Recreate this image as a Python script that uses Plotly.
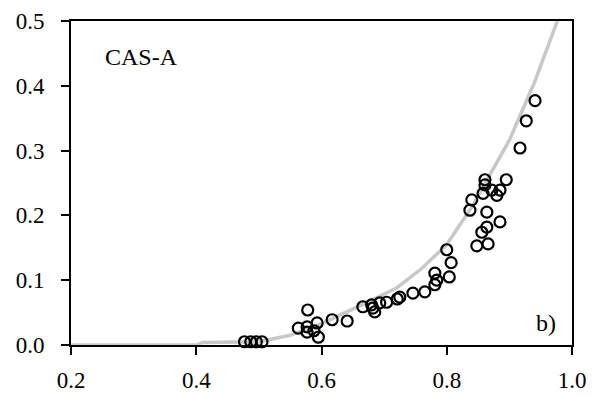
import plotly.graph_objects as go

# Observed data points
obs_x = [0.477, 0.487, 0.496, 0.505,
         0.563, 0.577, 0.578, 0.577, 0.593, 0.588, 0.595,
         0.617, 0.641,
         0.666, 0.680, 0.682, 0.685, 0.693, 0.704, 0.721, 0.725, 0.746, 0.765,
         0.781, 0.784, 0.781, 0.800, 0.807, 0.804,
         0.837, 0.840, 0.848, 0.856, 0.858, 0.861, 0.861, 0.864, 0.864, 0.866,
         0.872, 0.880, 0.885, 0.885, 0.895,
         0.917, 0.927, 0.941]
obs_y = [0.005, 0.005, 0.005, 0.005,
         0.026, 0.028, 0.054, 0.020, 0.034, 0.022, 0.012,
         0.039, 0.037,
         0.059, 0.062, 0.057, 0.051, 0.065, 0.066, 0.071, 0.074, 0.080, 0.082,
         0.093, 0.100, 0.111, 0.147, 0.127, 0.105,
         0.208, 0.224, 0.153, 0.174, 0.234, 0.255, 0.247, 0.205, 0.182, 0.156,
         0.239, 0.231, 0.239, 0.190, 0.255,
         0.304, 0.346, 0.377]

# Model curve
fit_x = [0.2, 0.3, 0.4, 0.41, 0.45, 0.5, 0.55, 0.6, 0.66, 0.72, 0.76, 0.8, 0.84, 0.9, 0.94, 0.976, 0.99]
fit_y = [0.0, 0.0, 0.0, 0.004, 0.004, 0.005, 0.015, 0.033, 0.060, 0.088, 0.118, 0.155, 0.213, 0.316, 0.405, 0.500, 0.535]

x_ticks = [0.2, 0.4, 0.6, 0.8, 1.0]
x_tick_labels = ["0.2", "0.4", "0.6", "0.8", "1.0"]
y_ticks = [0.0, 0.1, 0.2, 0.3, 0.4, 0.5]
y_tick_labels = ["0.0", "0.1", "0.2", "0.3", "0.4", "0.5"]

font_family = "Liberation Serif"

fig = go.Figure()
fig.add_trace(go.Scatter(x=fit_x, y=fit_y, mode="lines",
                         line=dict(color="#c8c8c8", width=3.5), showlegend=False,
                         cliponaxis=True))
fig.add_trace(go.Scatter(x=obs_x, y=obs_y, mode="markers",
                         marker=dict(symbol="circle-open", size=11, color="black",
                                     line=dict(width=2.2, color="black")),
                         showlegend=False, cliponaxis=False))

fig.add_annotation(x=0.251, y=0.444, xref="x", yref="y", text="CAS-A", showarrow=False,
                   xanchor="left", yanchor="middle", font=dict(size=24, color="black", family=font_family))
fig.add_annotation(x=0.977, y=0.034, xref="x", yref="y", text="b)", showarrow=False,
                   xanchor="right", yanchor="middle", font=dict(size=24, color="black", family=font_family))

fig.update_layout(
    width=592, height=395,
    margin=dict(l=71, r=20, t=21, b=50, autoexpand=False),
    paper_bgcolor="white", plot_bgcolor="white",
    font=dict(family=font_family, size=23, color="black"),
)
fig.update_xaxes(range=[0.2, 1.0], tickvals=x_ticks, ticktext=x_tick_labels, automargin=False,
                 tickfont=dict(size=23, family=font_family, color="black"),
                 showgrid=False, zeroline=False, showline=True, linecolor="black", linewidth=2,
                 mirror=True, ticks="outside", ticklen=8, tickwidth=2, tickcolor="black",
                 ticklabelstandoff=5)
fig.update_yaxes(range=[0.0, 0.5], tickvals=y_ticks, ticktext=y_tick_labels, automargin=False,
                 tickfont=dict(size=23, family=font_family, color="black"),
                 showgrid=False, zeroline=False, showline=True, linecolor="black", linewidth=2,
                 mirror=True, ticks="outside", ticklen=8, tickwidth=2, tickcolor="black",
                 ticklabelstandoff=12)

fig.write_html(
    "out.html",
    config={"displayModeBar": False},
    post_script="document.body.style.margin='0';document.body.style.overflow='hidden';"
                "document.documentElement.style.overflow='hidden';",
)
